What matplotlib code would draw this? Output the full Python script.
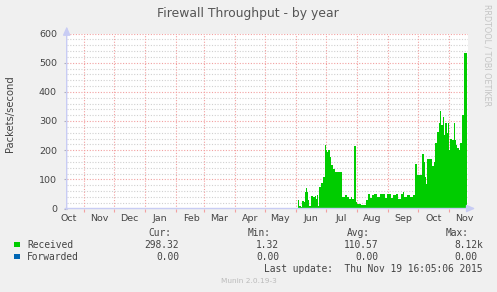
import matplotlib
matplotlib.use('Agg')
import matplotlib.pyplot as plt
import numpy as np
from datetime import datetime, timedelta

title = "Firewall Throughput - by year"
ylabel = "Packets/second"
month_labels = ["Oct", "Nov", "Dec", "Jan", "Feb", "Mar", "Apr", "May",
                "Jun", "Jul", "Aug", "Sep", "Oct", "Nov"]
month_starts = ["2014-10-01", "2014-11-01", "2014-12-01", "2015-01-01", "2015-02-01",
                "2015-03-01", "2015-04-01", "2015-05-01", "2015-06-01", "2015-07-01",
                "2015-08-01", "2015-09-01", "2015-10-01", "2015-11-01"]

dates = ["2015-06-03", "2015-06-04", "2015-06-06", "2015-06-07", "2015-06-09",
         "2015-06-10", "2015-06-11", "2015-06-12", "2015-06-13", "2015-06-14",
         "2015-06-16", "2015-06-18", "2015-06-20", "2015-06-21", "2015-06-22",
         "2015-06-23", "2015-06-24", "2015-06-26", "2015-06-28", "2015-06-30",
         "2015-07-01", "2015-07-02", "2015-07-03", "2015-07-05", "2015-07-06",
         "2015-07-08", "2015-07-10", "2015-07-17", "2015-07-18", "2015-07-20",
         "2015-07-22", "2015-07-24", "2015-07-26", "2015-07-27", "2015-07-29",
         "2015-07-31", "2015-08-01", "2015-08-05", "2015-08-09", "2015-08-10",
         "2015-08-12", "2015-08-14", "2015-08-16", "2015-08-18", "2015-08-21",
         "2015-08-24", "2015-08-26", "2015-08-29", "2015-08-31", "2015-09-04",
         "2015-09-06", "2015-09-09", "2015-09-11", "2015-09-14", "2015-09-16",
         "2015-09-17", "2015-09-20", "2015-09-23", "2015-09-26", "2015-09-28",
         "2015-09-30", "2015-10-05", "2015-10-07", "2015-10-08", "2015-10-09",
         "2015-10-10", "2015-10-15", "2015-10-17", "2015-10-18", "2015-10-20",
         "2015-10-22", "2015-10-23", "2015-10-24", "2015-10-26", "2015-10-27",
         "2015-10-28", "2015-10-30", "2015-10-31", "2015-11-01", "2015-11-02",
         "2015-11-04", "2015-11-06", "2015-11-07", "2015-11-08", "2015-11-09",
         "2015-11-11", "2015-11-12", "2015-11-14", "2015-11-16", "2015-11-19"]
received = [29, 8, 5, 26, 22,
            55, 69, 55, 30, 10,
            43, 40, 43, 34, 45,
            10, 73, 86, 109, 218,
            200, 195, 200, 178, 149,
            137, 126, 41, 40, 46,
            40, 34, 40, 34, 214,
            21, 15, 13, 12, 29,
            50, 35, 46, 51, 40,
            50, 50, 37, 49, 37,
            46, 49, 34, 51, 56,
            40, 48, 40, 45, 152,
            115, 187, 160, 109, 85,
            169, 146, 158, 224, 263,
            292, 334, 286, 315, 252,
            292, 258, 292, 200, 237,
            235, 292, 235, 218, 206,
            200, 224, 320, 532, 532]

legend_names = ["Received", "Forwarded"]
legend_colors = ["#00CC00", "#0066B3"]
cur_vals = ["298.32", "0.00"]
min_vals = ["1.32", "0.00"]
avg_vals = ["110.57", "0.00"]
max_vals = ["8.12k", "0.00"]
last_update = "Last update:  Thu Nov 19 16:05:06 2015"
footer = "Munin 2.0.19-3"
watermark = "RRDTOOL / TOBI OETIKER"

W, H = 497, 292
fig = plt.figure(figsize=(W / 100, H / 100), dpi=100)
fig.patch.set_facecolor('#F0F0F0')

x0, x1 = 66.7, 468.0
ytop, ybot = 33.5, 208.5
ax = fig.add_axes([x0 / W, 1 - ybot / H, (x1 - x0) / W, (ybot - ytop) / H])
ax.set_facecolor('white')

end = datetime(2015, 11, 19, 16, 5, 6)
start = end - timedelta(days=(x1 - x0))
ax.set_xlim(start, end)
ax.set_ylim(0, 600)

d = [datetime.strptime(s, "%Y-%m-%d") for s in dates]
ax.fill_between(d, received, 0, step='post', color=legend_colors[0], lw=0, zorder=3)

for s in ax.spines.values():
    s.set_visible(False)

# grid
major_red = '#F2A0A0'
minor_gray = '#D0D0D0'
for v in np.arange(20, 601, 20):
    if v % 100 == 0:
        ax.axhline(v, color=major_red, lw=0.8, ls=(0, (1, 1.5)), zorder=1)
    else:
        ax.axhline(v, color=minor_gray, lw=0.8, ls=(0, (1, 1.5)), zorder=1)
ms = [datetime.strptime(s, "%Y-%m-%d") for s in month_starts]
for m in ms:
    if start <= m <= end:
        ax.axvline(m, color=major_red, lw=0.8, ls=(0, (1, 1.5)), zorder=1)

# ticks
ax.set_yticks(np.arange(0, 601, 100))
ax.set_yticklabels([str(v) for v in range(0, 601, 100)])
mids = [m + timedelta(days=15) for m in ms]
ax.set_xticks(mids)
ax.set_xticklabels(month_labels)
ax.tick_params(axis='x', length=0, pad=4, labelsize=6.8, labelcolor='#444444')
ax.tick_params(axis='y', length=2, pad=5, labelsize=6.8, labelcolor='#444444', color='#B0B0C0')
ax.set_xticks([m for m in ms if start <= m <= end], minor=True)
ax.tick_params(axis='x', which='minor', length=2, color=major_red, width=0.8)

# axis lines with arrows
axis_col = '#C8CCF4'
ax.annotate('', xy=(1.018, 0), xytext=(-0.004, 0), xycoords='axes fraction',
            arrowprops=dict(arrowstyle='-|>,head_length=0.5,head_width=0.22', color=axis_col, lw=1.0,
                            shrinkA=0, shrinkB=0), zorder=5, annotation_clip=False)
ax.annotate('', xy=(0, 1.04), xytext=(0, -0.005), xycoords='axes fraction',
            arrowprops=dict(arrowstyle='-|>,head_length=0.5,head_width=0.22', color=axis_col, lw=1.0,
                            shrinkA=0, shrinkB=0), zorder=5, annotation_clip=False)

def fx(px):
    return px / W

def fy(py):
    return 1 - py / H

txtc = '#444444'
fig.text(fx(248), fy(13), title, ha='center', va='center', fontsize=8.9, color='#555555',
         family='DejaVu Sans')
fig.text(fx(10), fy(114), ylabel, ha='center', va='center', rotation=90, fontsize=7.2,
         color=txtc, family='DejaVu Sans')
fig.text(fx(486.7), fy(4), watermark, ha='center', va='top', rotation=270, fontsize=5.8,
         color='#C4C4C4', family='DejaVu Sans')

mono = 'DejaVu Sans Mono'
fs = 6.95
hy = 233
for xr, lab in zip([171, 271, 370, 469], ["Cur:", "Min:", "Avg:", "Max:"]):
    fig.text(fx(xr), fy(hy), lab, ha='right', va='center', fontsize=fs, color=txtc, family=mono)

rows_y = [244.5, 256.5]
for i, ry in enumerate(rows_y):
    fig.patches.append(plt.Rectangle((fx(14), fy(ry + 2.5)), 5.5 / W, 5.5 / H,
                                     transform=fig.transFigure, color=legend_colors[i], lw=0))
    fig.text(fx(27), fy(ry), legend_names[i], ha='left', va='center', fontsize=fs,
             color=txtc, family=mono)
    for xr, val in zip([179, 279, 378, 483 if i == 0 else 477],
                       [cur_vals[i], min_vals[i], avg_vals[i], max_vals[i]]):
        fig.text(fx(xr), fy(ry), val, ha='right', va='center', fontsize=fs, color=txtc, family=mono)

fig.text(fx(483), fy(269), last_update, ha='right', va='center', fontsize=fs, color=txtc, family=mono)
fig.text(fx(249), fy(281), footer, ha='center', va='center', fontsize=5.3, color='#BBBBBB',
         family='DejaVu Sans')

fig.savefig('out.png', dpi=100, facecolor=fig.get_facecolor())
